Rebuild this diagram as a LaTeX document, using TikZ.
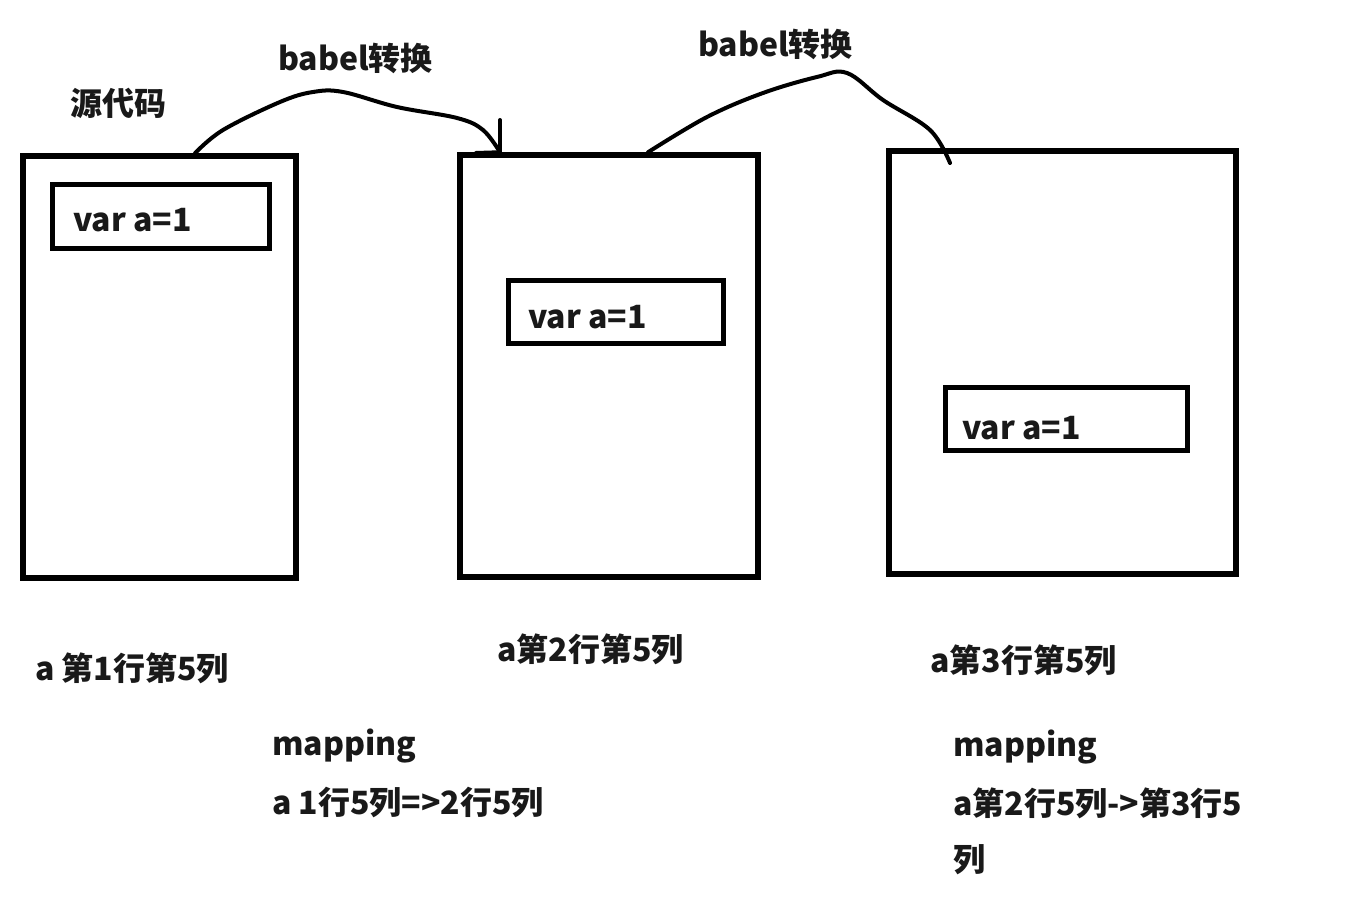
\documentclass[tikz,border=0pt]{standalone}
\usepackage{fontspec}
\setmainfont{Noto Sans CJK SC}
\begin{document}
\begin{tikzpicture}[x=1pt,y=-1pt,
  outerbox/.style={draw=black,line width=5.5pt,inner sep=0pt,minimum width=#1},
  innerbox/.style={draw=black,line width=5pt,inner sep=0pt,minimum height=63pt,minimum width=#1},
  txt/.style={anchor=west,inner sep=0pt,font=\fontsize{32}{38}\selectfont\bfseries,text=black!90},
  curve/.style={line width=4pt,line cap=round,line join=round}]
\useasboundingbox[fill=white] (0,0) rectangle (1354,904);
% outer boxes
\node[outerbox=273pt,minimum height=422pt] (b1) at (159.5,367) {};
\node[outerbox=298pt,minimum height=422pt] (b2) at (609,366) {};
\node[outerbox=347pt,minimum height=423pt] (b3) at (1062.5,362.5) {};
% inner boxes
\node[innerbox=217pt] (i1) at (160.5,216.5) {};
\node[innerbox=215pt] (i2) at (615.5,311.5) {};
\node[innerbox=242pt] (i3) at (1066,419) {};
\node[txt] (v1) at (73,220) {var a=1};
\node[txt] (v2) at (528,317) {var a=1};
\node[txt] (v3) at (962,428) {var a=1};
% labels
\node[txt] (src) at (70,103) {源代码};
\node[txt] (bab1) at (278,58) {babel转换};
\node[txt] (bab2) at (698,44) {babel转换};
\node[txt] (p1) at (35,668) {a 第1行第5列};
\node[txt] (p2) at (497,649) {a第2行第5列};
\node[txt] (p3) at (930,660) {a第3行第5列};
\node[txt] (m1) at (272,746) {mapping};
\node[txt] (m1b) at (272,802) {a 1行5列=>2行5列};
\node[txt] (m2) at (953,747) {mapping};
\node[txt] (m2b) at (953,803) {a第2行5列->第3行5};
\node[txt] (m2c) at (953,860) {列};
% connectors
\coordinate (s1) at (b1.north -| 195,0);
\coordinate (e1) at (b2.north -| 500,0);
\coordinate (t1) at (500,120);
\coordinate (s2) at (b2.north -| 648,0);
\coordinate (e2) at (950,163);
\draw[curve] plot[smooth,tension=0.6] coordinates {(s1) (223,130) (280,102) (313,92) (343,92) (397,107) (457,118) (483,130) (e1)};
\draw[curve] (t1) -- (e1);
\draw[curve] (476,153) -- (e1);
\draw[curve] plot[smooth,tension=0.6] coordinates {(s2) (707,117) (763,93) (817,77) (847,73) (883,100) (930,130) (e2)};
\end{tikzpicture}
\end{document}
